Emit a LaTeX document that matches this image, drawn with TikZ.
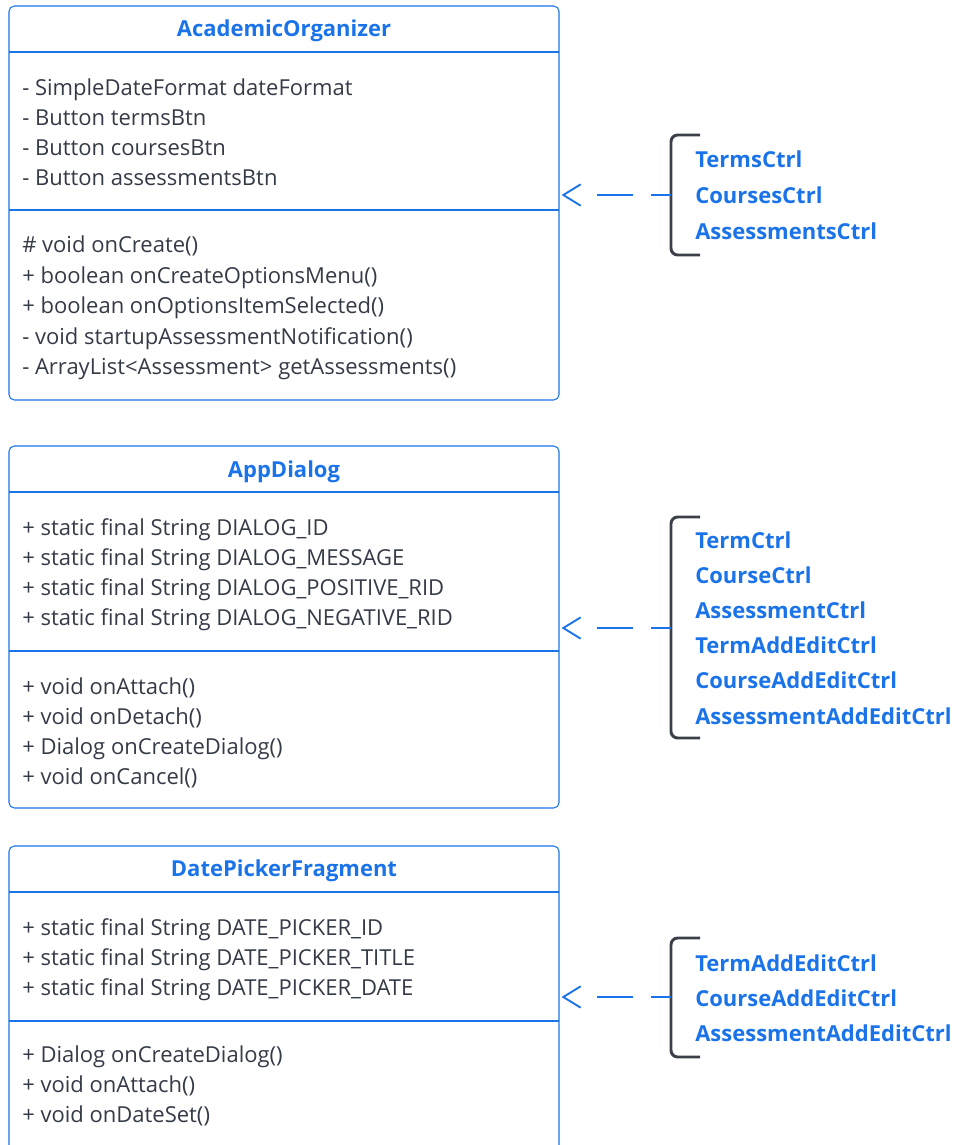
\documentclass[tikz,border=0pt]{standalone}
\usepackage{fontspec}
\setmainfont{Open Sans}
\usetikzlibrary{arrows.meta,fit}
\definecolor{umlblue}{HTML}{1A73E8}
\definecolor{umltext}{HTML}{343A46}
\definecolor{bracecol}{HTML}{3A3F48}
\tikzset{
  classbox/.style={draw=umlblue, line width=0.8pt, rounded corners=4pt, inner sep=0pt},
  divider/.style={draw=umlblue, line width=0.8pt},
  classtitle/.style={text=umlblue, font=\fontsize{16.5}{20}\selectfont\bfseries, inner sep=0pt},
  member/.style={text=umltext, font=\fontsize{16.5}{20}\selectfont, anchor=base west, inner sep=0pt},
  user/.style={text=umlblue, font=\fontsize{16.5}{20}\selectfont\bfseries, anchor=base west, inner sep=0pt},
  bracketline/.style={draw=bracecol, line width=2.2pt, rounded corners=5pt},
  dep/.style={draw=umlblue, line width=1.4pt,
    dash pattern=on 15pt off 13.5pt on 27pt off 60pt,
    -{Straight Barb[length=13pt,width=16pt]}}
}
\begin{document}
\begin{tikzpicture}[x=0.75pt,y=-0.75pt]
\useasboundingbox (0,0) rectangle (956,1145);
\clip (0,0) rectangle (956,1145);

% ---------- AcademicOrganizer ----------
\node[classbox, fit={(9,6) (559,400)}] (ao) {};
\node[classtitle] (aoT) at (284,31) {AcademicOrganizer};
\draw[divider] (9,52) -- (559,52);
\draw[divider] (9,210) -- (559,210);
\foreach \t [count=\i] in {- SimpleDateFormat dateFormat, - Button termsBtn,
    - Button coursesBtn, - Button assessmentsBtn}
  \node[member] (aoA\i) at (22,{95.5+30*(\i-1)}) {\t};
\foreach \t [count=\i] in {\# void onCreate(), + boolean onCreateOptionsMenu(),
    + boolean onOptionsItemSelected(), - void startupAssessmentNotification(),
    - ArrayList<Assessment> getAssessments()}
  \node[member] (aoM\i) at (22,{252.5+30.5*(\i-1)}) {\t};

% ---------- AppDialog ----------
\node[classbox, fit={(9,446) (559,808)}] (ad) {};
\node[classtitle] (adT) at (284,472) {AppDialog};
\draw[divider] (9,492) -- (559,492);
\draw[divider] (9,651) -- (559,651);
\foreach \t [count=\i] in {+ static final String DIALOG\_ID, + static final String DIALOG\_MESSAGE,
    + static final String DIALOG\_POSITIVE\_RID, + static final String DIALOG\_NEGATIVE\_RID}
  \node[member] (adA\i) at (22,{535.5+30*(\i-1)}) {\t};
\foreach \t [count=\i] in {+ void onAttach(), + void onDetach(),
    + Dialog onCreateDialog(), + void onCancel()}
  \node[member] (adM\i) at (22,{694.5+30*(\i-1)}) {\t};

% ---------- DatePickerFragment ----------
\node[classbox, fit={(9,846) (559,1180)}] (dp) {};
\node[classtitle] (dpT) at (284,871) {DatePickerFragment};
\draw[divider] (9,892) -- (559,892);
\draw[divider] (9,1021) -- (559,1021);
\foreach \t [count=\i] in {+ static final String DATE\_PICKER\_ID,
    + static final String DATE\_PICKER\_TITLE, + static final String DATE\_PICKER\_DATE}
  \node[member] (dpA\i) at (22,{935.5+30*(\i-1)}) {\t};
\foreach \t [count=\i] in {+ Dialog onCreateDialog(), + void onAttach(), + void onDateSet()}
  \node[member] (dpM\i) at (22,{1062.5+30*(\i-1)}) {\t};

% ---------- users of AcademicOrganizer ----------
\draw[bracketline] (700,135) -- (671,135) -- (671,255) -- (700,255);
\coordinate (u1) at (671,195);
\foreach \t [count=\i] in {TermsCtrl, CoursesCtrl, AssessmentsCtrl}
  \node[user] (u1L\i) at (695,{168+35.5*(\i-1)}) {\t};
\draw[dep] (u1) -- ([xshift=1.5pt]ao.east |- u1);

% ---------- users of AppDialog ----------
\draw[bracketline] (700,517) -- (671,517) -- (671,738) -- (700,738);
\coordinate (u2) at (671,628);
\foreach \t [count=\i] in {TermCtrl, CourseCtrl, AssessmentCtrl, TermAddEditCtrl,
    CourseAddEditCtrl, AssessmentAddEditCtrl}
  \node[user] (u2L\i) at (695,{548+35.2*(\i-1)}) {\t};
\draw[dep] (u2) -- ([xshift=1.5pt]ad.east |- u2);

% ---------- users of DatePickerFragment ----------
\draw[bracketline] (700,938) -- (671,938) -- (671,1057) -- (700,1057);
\coordinate (u3) at (671,997);
\foreach \t [count=\i] in {TermAddEditCtrl, CourseAddEditCtrl, AssessmentAddEditCtrl}
  \node[user] (u3L\i) at (695,{971+35*(\i-1)}) {\t};
\draw[dep] (u3) -- ([xshift=1.5pt]dp.east |- u3);
\end{tikzpicture}
\end{document}
